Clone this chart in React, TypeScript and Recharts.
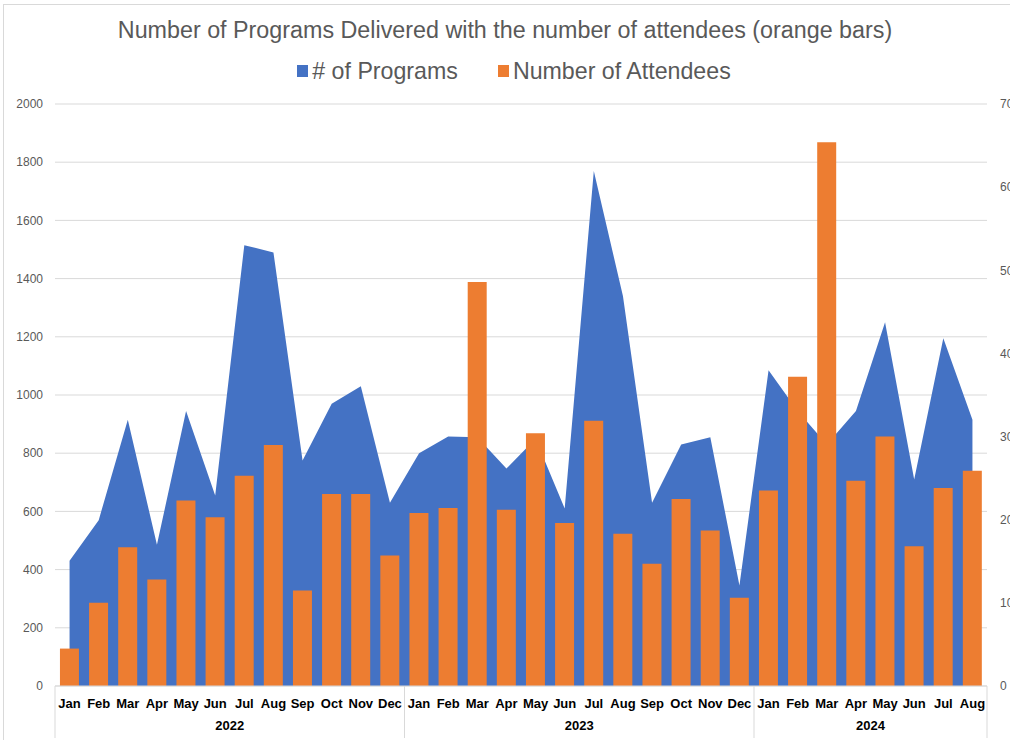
import React from "react";
import {
  ComposedChart,
  Area,
  Bar,
  XAxis,
  YAxis,
  CartesianGrid,
} from "recharts";

const monthNames = ["Jan", "Feb", "Mar", "Apr", "May", "Jun", "Jul", "Aug", "Sep", "Oct", "Nov", "Dec"];
const yearGroups = [
  { year: "2022", months: 12 },
  { year: "2023", months: 12 },
  { year: "2024", months: 8 },
];

// # of Programs (left axis)
const programs = [
  430, 570, 915, 485, 945, 655, 1515, 1490, 775, 970, 1030, 630,
  800, 857, 855, 747, 850, 610, 1770, 1340, 630, 830, 855, 345,
  1085, 945, 830, 945, 1250, 710, 1195, 915,
];

// Number of Attendees (right axis)
const attendees = [
  45, 100, 167, 128, 223, 203, 253, 290, 115, 231, 231, 157,
  208, 214, 486, 212, 304, 196, 319, 183, 147, 225, 187, 106,
  235, 372, 654, 247, 300, 168, 238, 259,
];

const leftTicks = [0, 200, 400, 600, 800, 1000, 1200, 1400, 1600, 1800, 2000];
const rightTicks = [0, 100, 200, 300, 400, 500, 600, 700];

const BLUE = "#4472C4";
const ORANGE = "#ED7D31";
const GRID = "#d9d9d9";
const TEXT = "#595959";

const CHART_W = 1030;
const CHART_H = 740;
const PLOT_LEFT = 55;
const PLOT_RIGHT = 987;
const PLOT_BOTTOM = 686;

const data = yearGroups.flatMap((g) =>
  monthNames.slice(0, g.months).map((m) => ({ month: m, year: g.year }))
).map((d, i) => ({
  ...d,
  key: `${d.year}-${d.month}`,
  programs: programs[i],
  attendees: attendees[i],
}));

const BAND = (PLOT_RIGHT - PLOT_LEFT) / data.length;

// group start indexes
const groupStarts: number[] = [];
yearGroups.reduce((acc, g) => {
  groupStarts.push(acc);
  return acc + g.months;
}, 0);

function MonthTick(props: any) {
  const { x, payload } = props;
  const i = payload.index;
  const gi = groupStarts.indexOf(i);
  const lineColor = GRID;
  return (
    <g>
      <text
        x={x}
        y={PLOT_BOTTOM + 22}
        textAnchor="middle"
        fontSize={13}
        fontWeight="bold"
        fill="#000"
        fontFamily="Liberation Sans, Arial, sans-serif"
      >
        {data[i].month}
      </text>
      {gi >= 0 && (
        <>
          <line
            x1={x - BAND / 2}
            x2={x - BAND / 2}
            y1={PLOT_BOTTOM}
            y2={CHART_H - 2}
            stroke={lineColor}
          />
          <text
            x={x - BAND / 2 + (yearGroups[gi].months * BAND) / 2}
            y={PLOT_BOTTOM + 44}
            textAnchor="middle"
            fontSize={13}
            fontWeight="bold"
            fill="#000"
            fontFamily="Liberation Sans, Arial, sans-serif"
          >
            {yearGroups[gi].year}
          </text>
        </>
      )}
      {i === data.length - 1 && (
        <line
          x1={x + BAND / 2}
          x2={x + BAND / 2}
          y1={PLOT_BOTTOM}
          y2={CHART_H - 2}
          stroke={lineColor}
        />
      )}
    </g>
  );
}

export default function App() {
  return (
    <div
      style={{
        position: "fixed",
        left: 0,
        top: 0,
        width: 1010,
        height: 740,
        overflow: "hidden",
        background: "#fff",
        fontFamily: "Liberation Sans, Arial, sans-serif",
      }}
    >
      <div
        style={{
          position: "absolute",
          left: 3,
          top: 4,
          width: 1020,
          height: 750,
          border: "1px solid #d9d9d9",
        }}
      />
      <div
        style={{
          position: "absolute",
          left: 0,
          width: 1010,
          top: 15,
          textAlign: "center",
          fontSize: 23.3,
          color: TEXT,
          lineHeight: "30px",
        }}
      >
        Number of Programs Delivered with the number of attendees (orange bars)
      </div>
      <div
        style={{
          position: "absolute",
          left: 9,
          width: 1010,
          top: 56,
          display: "flex",
          justifyContent: "center",
          alignItems: "center",
          fontSize: 23.2,
          color: TEXT,
          lineHeight: "30px",
        }}
      >
        <span style={{ display: "inline-block", width: 11, height: 12, background: BLUE, marginRight: 4 }} />
        <span># of Programs</span>
        <span style={{ display: "inline-block", width: 11, height: 12, background: ORANGE, marginLeft: 40, marginRight: 4 }} />
        <span>Number of Attendees</span>
      </div>
      <div style={{ position: "absolute", left: 0, top: 0 }}>
        <ComposedChart
          width={CHART_W}
          height={CHART_H}
          data={data}
          margin={{ top: 104, right: 0, bottom: 0, left: 0 }}
          barCategoryGap="17%"
        >
          <CartesianGrid yAxisId="left" vertical={false} stroke={GRID} />
          <XAxis
            dataKey="key"
            interval={0}
            height={54}
            tickLine={false}
            axisLine={{ stroke: GRID }}
            tick={<MonthTick />}
          />
          <YAxis
            yAxisId="left"
            orientation="left"
            width={PLOT_LEFT}
            domain={[0, 2000]}
            ticks={leftTicks}
            tickLine={false}
            tickSize={0}
            tickMargin={12}
            axisLine={false}
            tick={{ fontSize: 12, fill: TEXT }}
          />
          <YAxis
            yAxisId="right"
            orientation="right"
            width={CHART_W - PLOT_RIGHT}
            domain={[0, 700]}
            ticks={rightTicks}
            tickLine={false}
            tickSize={0}
            tickMargin={13}
            axisLine={false}
            tick={{ fontSize: 12, fill: TEXT }}
          />
          <Area
            yAxisId="left"
            type="linear"
            dataKey="programs"
            stroke="none"
            fill={BLUE}
            fillOpacity={1}
            isAnimationActive={false}
            name="# of Programs"
          />
          <Bar
            yAxisId="right"
            dataKey="attendees"
            fill={ORANGE}
            isAnimationActive={false}
            name="Number of Attendees"
          />
        </ComposedChart>
      </div>
    </div>
  );
}
